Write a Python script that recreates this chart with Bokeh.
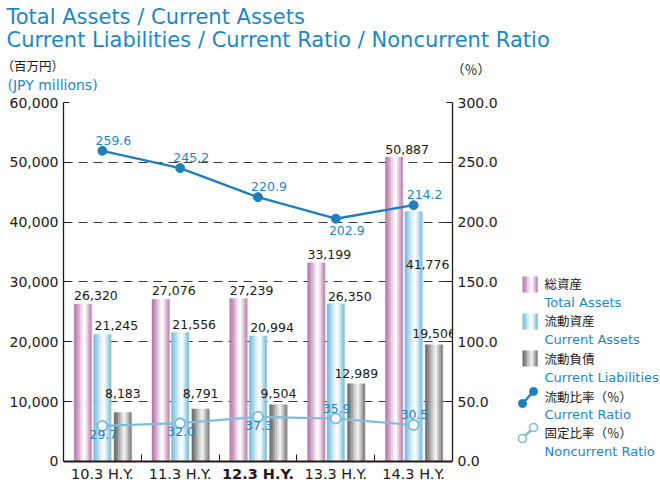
import numpy as np
from bokeh.plotting import figure
from bokeh.layouts import column, row
from bokeh.models import (ColumnDataSource, Range1d, LinearAxis, FixedTicker, Label, LabelSet,
                          NumeralTickFormatter)
from bokeh.core.properties import value, field
from bokeh.transform import dodge
from bokeh.embed import file_html
from bokeh.resources import INLINE

# ---------------- data ----------------
periods = ["10.3 H.Y.", "11.3 H.Y.", "12.3 H.Y.", "13.3 H.Y.", "14.3 H.Y."]
total_assets = [26320, 27076, 27239, 33199, 50887]
current_assets = [21245, 21556, 20994, 26350, 41776]
current_liabilities = [8183, 8791, 9504, 12989, 19506]
current_ratio = [259.6, 245.2, 220.9, 202.9, 214.2]
noncurrent_ratio = [29.7, 32.0, 37.3, 35.9, 30.5]
left_ticks = [0, 10000, 20000, 30000, 40000, 50000, 60000]
right_ticks = [0, 50, 100, 150, 200, 250, 300]

# ---------------- style ----------------
period_style = ["normal", "normal", "bold", "normal", "normal"]
cr_label_above = [True, True, True, False, True]
ncr_label_above = [False, False, False, True, True]
ta_label_dy = [4, 4, 4, 4, 3]
ca_label_dy = [4, 4, 4, 3, -57]
cl_label_dy = [15, 11, 7, 6, 7]

FONT = "DejaVu Sans"
JP = "Noto Sans CJK JP"
INK = "#231815"
BLUE = "#1d87c5"
CR_COL = "#1f7fbd"
NCR_COL = "#80bcdc"

TA_COLS = ["#b97aae", "#c68fbd", "#d6aecf", "#e8d0e3", "#f8eef6", "#ffffff", "#efdcec", "#d9b2d2", "#c48fba"]
CA_COLS = ["#7dbfdc", "#95cbe3", "#b5dcee", "#d4ebf5", "#eef7fb", "#ffffff", "#dbeff7", "#acd7ea", "#86c4df"]
CL_COLS = ["#6c6c6c", "#838383", "#a3a3a3", "#c2c2c2", "#dedede", "#f2f2f2", "#d2d2d2", "#a9a9a9", "#888888"]

TOP_H = 94
CHART_W, CHART_H = 500, 388
LEG_W = 660 - CHART_W
BL, BR, BT = 63, 47, 8
# room below the zero line (in left-axis units) for the period labels
Y_PAD = 3510
Y_MAX = left_ticks[-1]
PCT_MAX = right_ticks[-1]


def blank(width, height, xr, yr, top_border=0):
    f = figure(width=width, height=height, x_range=xr, y_range=yr, output_backend="svg",
               toolbar_location=None, x_axis_location=None, y_axis_location=None,
               min_border=0, min_border_left=0, min_border_right=0, min_border_top=top_border,
               min_border_bottom=0)
    f.grid.visible = False
    f.outline_line_color = None
    f.background_fill_color = "white"
    f.border_fill_color = "white"
    return f


def label(f, x, y, text, size, color, font=FONT, baseline="middle", style="normal"):
    f.add_layout(Label(x=x, y=y, text=text, text_font=font, text_font_size=size,
                       text_color=color, text_baseline=baseline, text_font_style=style))


# ---------------- header (page coordinates) ----------------
top = blank(660, TOP_H, Range1d(0, 660), Range1d(TOP_H, 0))
label(top, 6, 16, "Total Assets / Current Assets", "21px", BLUE)
label(top, 6, 39, "Current Liabilities / Current Ratio / Noncurrent Ratio", "21px", BLUE)
label(top, 1, 65, "（百万円）", "12.5px", INK, font=JP)
label(top, 7, 84, "(JPY millions)", "14px", BLUE)
label(top, 451, 68, "（％）", "13px", INK, font=JP)

# ---------------- chart ----------------
xr = Range1d(0, len(periods))
p = figure(width=CHART_W, height=CHART_H, x_range=xr, y_range=Range1d(-Y_PAD, Y_MAX),
           output_backend="svg", toolbar_location=None,
           min_border_left=BL, min_border_right=BR, min_border_top=BT, min_border_bottom=0)
p.extra_y_ranges = {"pct": Range1d(-Y_PAD * PCT_MAX / Y_MAX, PCT_MAX)}
p.outline_line_color = None
p.background_fill_color = "white"
p.border_fill_color = "white"

p.xgrid.visible = False
p.ygrid.ticker = FixedTicker(ticks=left_ticks[1:])
p.ygrid.grid_line_color = "#3a3a3a"
p.ygrid.grid_line_dash = "9 6"
p.ygrid.grid_line_width = 1

ly = p.left[0]
ly.ticker = FixedTicker(ticks=left_ticks)
ly.bounds = (0, Y_MAX)
ly.formatter = NumeralTickFormatter(format="0,0")
ly.major_tick_in = 6
ly.major_tick_out = 0
ly.minor_tick_line_color = None
ly.axis_line_color = INK
ly.axis_line_width = 1.3
ly.major_tick_line_color = INK
ly.major_label_text_font = FONT
ly.major_label_text_font_size = "14px"
ly.major_label_text_color = INK
ly.major_label_standoff = 5

ry = LinearAxis(y_range_name="pct", ticker=FixedTicker(ticks=right_ticks),
                formatter=NumeralTickFormatter(format="0.0"), bounds=(0, PCT_MAX))
ry.major_tick_in = 6
ry.major_tick_out = 0
ry.minor_tick_line_color = None
ry.axis_line_color = INK
ry.axis_line_width = 1.3
ry.major_tick_line_color = INK
ry.major_label_text_font = FONT
ry.major_label_text_font_size = "14px"
ry.major_label_text_color = INK
ry.major_label_standoff = 5
p.add_layout(ry, "right")

bx = p.below[0]
bx.fixed_location = 0
bx.ticker = FixedTicker(ticks=[], minor_ticks=list(range(1, len(periods))))
bx.major_tick_in = 0
bx.major_tick_out = 0
bx.minor_tick_in = 7
bx.minor_tick_out = 0
bx.minor_tick_line_color = INK
bx.axis_line_color = INK
bx.axis_line_width = 1.8

centers = np.arange(len(periods)) + 0.5
src = ColumnDataSource(dict(
    x=centers, ta=total_assets, ca=current_assets, cl=current_liabilities,
    cr=current_ratio, ncr=noncurrent_ratio,
    ta_t=[f"{v:,}" for v in total_assets],
    ca_t=[f"{v:,}" for v in current_assets],
    cl_t=[f"{v:,}" for v in current_liabilities],
    cr_t=[f"{v:.1f}" for v in current_ratio],
    ncr_t=[f"{v:.1f}" for v in noncurrent_ratio],
    ta_dy=ta_label_dy, ca_dy=ca_label_dy, cl_dy=cl_label_dy,
    cr_off=[6 if a else -7 for a in cr_label_above],
    cr_base=["alphabetic" if a else "top" for a in cr_label_above],
    ncr_off=[6 if a else -4 for a in ncr_label_above],
    ncr_base=["alphabetic" if a else "top" for a in ncr_label_above],
    label=periods, style=period_style, zero=[0] * len(periods),
))

BAR_W = 0.225


def striped_bars(col, offset, colors):
    n = len(colors)
    sw = BAR_W / n
    for i, c in enumerate(colors):
        so = offset - BAR_W / 2 + sw * (i + 0.5)
        p.vbar(x=dodge("x", so, range=xr), top=col, bottom=0, width=sw, source=src,
               fill_color=c, line_color=c, line_width=0.4)


striped_bars("ta", -0.25, TA_COLS)
striped_bars("ca", 0.0, CA_COLS)
striped_bars("cl", 0.263, CL_COLS)

p.line("x", "ncr", source=src, y_range_name="pct", line_color=NCR_COL, line_width=2.2)
p.scatter("x", "ncr", source=src, y_range_name="pct", size=10, fill_color="white",
          line_color=NCR_COL, line_width=2)
p.line("x", "cr", source=src, y_range_name="pct", line_color=CR_COL, line_width=2.4)
p.scatter("x", "cr", source=src, y_range_name="pct", size=9, fill_color=CR_COL,
          line_color=CR_COL)

common = dict(source=src, text_font=value(FONT), text_font_size="12.5px", text_align="center")
p.add_layout(LabelSet(x=dodge("x", -0.25, range=xr), y="ta", text="ta_t", x_offset=13,
                      y_offset=field("ta_dy"), text_color=INK, text_baseline="alphabetic",
                      **common))
p.add_layout(LabelSet(x="x", y="ca", text="ca_t", x_offset=14, y_offset=field("ca_dy"),
                      text_color=INK, text_baseline="alphabetic", **common))
p.add_layout(LabelSet(x=dodge("x", 0.263, range=xr), y="cl", text="cl_t", x_offset=0,
                      y_offset=field("cl_dy"), text_color=INK, text_baseline="alphabetic",
                      **common))
p.add_layout(LabelSet(x="x", y="cr", y_range_name="pct", text="cr_t", x_offset=11,
                      y_offset=field("cr_off"), text_baseline=field("cr_base"),
                      text_color=BLUE, **common))
p.add_layout(LabelSet(x="x", y="ncr", y_range_name="pct", text="ncr_t", x_offset=1,
                      y_offset=field("ncr_off"), text_baseline=field("ncr_base"),
                      text_color=BLUE, **common))

# period labels under the axis line
p.add_layout(LabelSet(x="x", y="zero", text="label", source=src, y_offset=-13,
                      text_font=value(FONT), text_font_size="14.5px", text_color=INK,
                      text_align="center", text_baseline="middle",
                      text_font_style=field("style")))

# ---------------- legend (page coordinates; frame aligned with the chart frame) ----------------
leg = blank(LEG_W, CHART_H, Range1d(CHART_W, 660), Range1d(482, TOP_H + BT), top_border=BT)


def swatch(px, py, colors, w=15, h=16):
    n = len(colors)
    sw = w / n
    leg.quad(left=[px + i * sw for i in range(n)], right=[px + (i + 1) * sw + 0.3 for i in range(n)],
             top=[py] * n, bottom=[py + h] * n, fill_color=colors, line_color=None)


def icon(x0, y0, x1, y1, color, fill, lw):
    leg.line([x0, x1], [y0, y1], line_color=color, line_width=2.5)
    leg.scatter([x0, x1], [y0, y1], size=8, fill_color=fill, line_color=color, line_width=lw)


LX = 544
JSZ = "12.5px"
ESZ = "13px"
swatch(522, 276, TA_COLS)
label(leg, LX, 283, "総資産", JSZ, INK, font=JP)
label(leg, LX, 302, "Total Assets", ESZ, BLUE)
swatch(522, 313, CA_COLS)
label(leg, LX, 320, "流動資産", JSZ, INK, font=JP)
label(leg, LX, 339, "Current Assets", ESZ, BLUE)
swatch(522, 350, CL_COLS)
label(leg, LX, 358, "流動負債", JSZ, INK, font=JP)
label(leg, LX, 376.5, "Current Liabilities", ESZ, BLUE)
icon(522, 403, 533, 391, CR_COL, CR_COL, 1)
label(leg, LX, 396, "流動比率（％）", JSZ, INK, font=JP)
label(leg, LX, 413.5, "Current Ratio", ESZ, BLUE)
icon(522, 438, 533, 427, NCR_COL, "white", 1.6)
label(leg, LX, 432, "固定比率（％）", JSZ, INK, font=JP)
label(leg, LX, 451, "Noncurrent Ratio", ESZ, BLUE)

layout = column(top, row(p, leg))
open("out.html", "w").write(file_html(layout, INLINE))
